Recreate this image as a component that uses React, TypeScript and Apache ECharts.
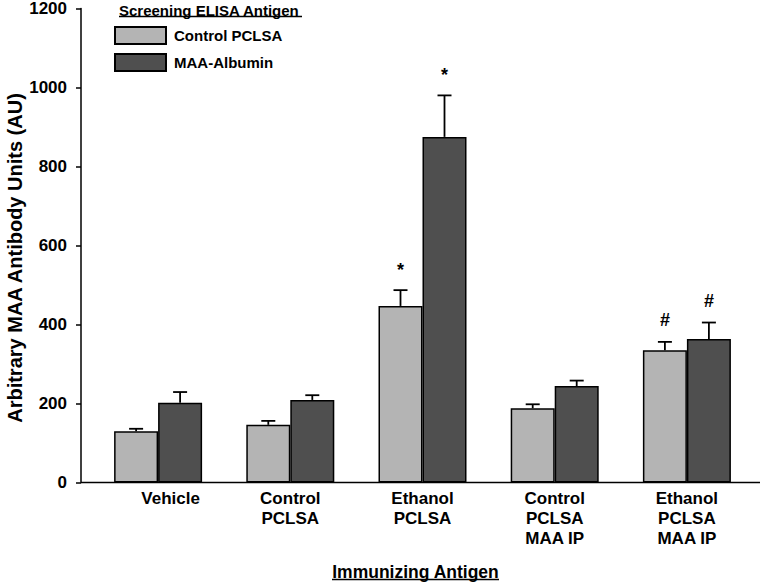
import React, { useEffect, useRef } from "react";
import * as echarts from "echarts";

const categories = ["Vehicle", "Control\nPCLSA", "Ethanol\nPCLSA", "Control\nPCLSA\nMAA IP", "Ethanol\nPCLSA\nMAA IP"];
const controlPclsa = [130, 146, 447, 188, 335];
const controlPclsaErr = [6, 10, 40, 10, 21];
const maaAlbumin = [202, 209, 875, 244, 363];
const maaAlbuminErr = [27, 12, 105, 14, 42];
const controlMarks = ["", "", "*", "", "#"];
const maaMarks = ["", "", "*", "", "#"];
const yTicks = { min: 0, max: 1200, interval: 200 };

const FONT = "'Liberation Sans', Arial, Helvetica, sans-serif";
const LIGHT = "#b4b4b4";
const DARK = "#4f4f4f";
const BAR_W = 44;

function errorSeries(name: string, values: number[], errs: number[], marks: string[], offset: number) {
  return {
    type: "custom",
    name,
    z: 5,
    clip: false,
    data: values.map((v, i) => [i, v, errs[i]]),
    encode: { x: 0, y: 1 },
    renderItem: (params: any, api: any) => {
      const i = api.value(0);
      const v = api.value(1);
      const e = api.value(2);
      const base = api.coord([i, v]);
      const top = api.coord([i, v + e]);
      const x = base[0] + offset;
      const children: any[] = [
        { type: "line", shape: { x1: x, y1: base[1], x2: x, y2: top[1] }, style: { stroke: "#000", lineWidth: 1.8 } },
        { type: "line", shape: { x1: x - 7, y1: top[1], x2: x + 7, y2: top[1] }, style: { stroke: "#000", lineWidth: 1.8 } },
      ];
      const m = marks[params.dataIndex];
      if (m) {
        children.push({
          type: "text",
          x,
          y: top[1] - (m === "*" ? 20 : 22),
          style: { text: m, fill: "#000", fontSize: 18, fontWeight: "bold", fontFamily: FONT, align: "center", verticalAlign: "middle" },
        });
      }
      return { type: "group", children };
    },
  };
}

export default function App() {
  const ref = useRef<HTMLDivElement>(null);
  useEffect(() => {
    if (!ref.current) return;
    const chart = echarts.init(ref.current, undefined, { renderer: "svg" });
    const option: any = {
      animation: false,
      backgroundColor: "#fff",
      grid: { left: 92, right: 10, top: 8.5, bottom: 99.5, containLabel: false },
      legend: {
        orient: "vertical",
        left: 114,
        top: 26,
        padding: 0,
        itemWidth: 51,
        itemHeight: 17,
        itemGap: 8,
        icon: "rect",
        selectedMode: false,
        data: ["Control PCLSA", "MAA-Albumin"],
        textStyle: { fontSize: 15, fontWeight: "bold", fontFamily: FONT, color: "#000", padding: [0, 0, 0, 3] },
      },
      xAxis: {
        type: "category",
        data: categories,
        axisLine: { show: false },
        axisTick: { show: false },
        axisLabel: {
          margin: 6,
          fontSize: 17,
          fontWeight: "bold",
          fontFamily: FONT,
          color: "#000",
          lineHeight: 20,
          interval: 0,
          formatter: (v: string, i: number) => (i === 0 ? "{shift|" + v + "}" : v),
          rich: { shift: { padding: [0, 0, 0, 25], fontSize: 17, fontWeight: "bold", fontFamily: FONT, color: "#000", lineHeight: 20 } },
        },
      },
      yAxis: {
        type: "value",
        min: yTicks.min,
        max: yTicks.max,
        interval: yTicks.interval,
        offset: 11,
        axisLine: { show: true, lineStyle: { color: "#000", width: 1.5 } },
        axisTick: { show: true, length: 5, lineStyle: { color: "#000", width: 1.5 } },
        splitLine: { show: false },
        axisLabel: {
          margin: 14,
          fontSize: 17,
          fontWeight: "bold",
          fontFamily: FONT,
          color: "#000",
          formatter: (v: number) => String(v),
        },
      },
      series: [
        {
          type: "bar",
          name: "Control PCLSA",
          data: controlPclsa,
          barWidth: BAR_W,
          barGap: "0%",
          itemStyle: { color: LIGHT, borderColor: "#000", borderWidth: 1.5 },
        },
        {
          type: "bar",
          name: "MAA-Albumin",
          data: maaAlbumin,
          barWidth: BAR_W,
          barGap: "0%",
          itemStyle: { color: DARK, borderColor: "#000", borderWidth: 1.5 },
        },
        errorSeries("Control PCLSA err", controlPclsa, controlPclsaErr, controlMarks, -BAR_W / 2),
        errorSeries("MAA-Albumin err", maaAlbumin, maaAlbuminErr, maaMarks, BAR_W / 2),
      ],
      graphic: [
        { type: "line", z: 100, shape: { x1: 81, y1: 482.5, x2: 760, y2: 482.5 }, style: { stroke: "#000", lineWidth: 1.5 } },
        {
          type: "text",
          x: 119,
          y: 10,
          style: { text: "Screening ELISA Antigen", fill: "#000", fontSize: 15, fontWeight: "bold", fontFamily: FONT, align: "left", verticalAlign: "middle" },
        },
        { type: "line", shape: { x1: 119, y1: 16.5, x2: 302, y2: 16.5 }, style: { stroke: "#000", lineWidth: 1.3 } },
        {
          type: "text",
          x: 415.5,
          y: 572,
          style: { text: "Immunizing Antigen", fill: "#000", fontSize: 17.5, fontWeight: "bold", fontFamily: FONT, align: "center", verticalAlign: "middle" },
        },
        { type: "line", shape: { x1: 332, y1: 579.5, x2: 499, y2: 579.5 }, style: { stroke: "#000", lineWidth: 1.3 } },
        {
          type: "text",
          x: 15,
          y: 258,
          rotation: Math.PI / 2,
          style: { text: "Arbitrary MAA Antibody Units (AU)", fill: "#000", fontSize: 20, fontWeight: "bold", fontFamily: FONT, align: "center", verticalAlign: "middle" },
        },
      ],
    };
    chart.setOption(option);
    return () => chart.dispose();
  }, []);
  return <div ref={ref} style={{ width: 763, height: 582, position: "absolute", left: 0, top: 0 }} />;
}
